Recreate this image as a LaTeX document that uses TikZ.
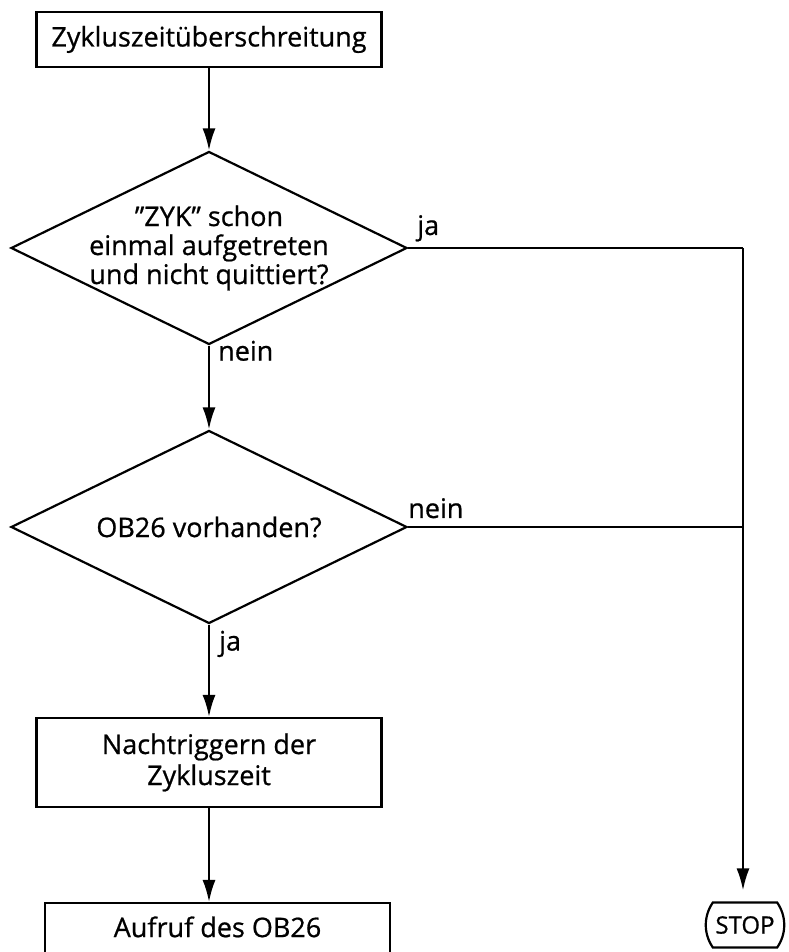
\documentclass[tikz,border=0pt]{standalone}
\usepackage{fontspec}
\setmainfont{Open Sans}[FakeBold=0.7]
\usetikzlibrary{
  arrows.meta,
  calc,
  positioning,
  shapes.geometric,
  shapes.misc
}

\tikzset{
  box/.style={draw,line width=2.2pt,minimum width=345pt,minimum height=55pt,
    inner sep=4pt,align=center},
  decision/.style={draw,diamond,line width=2.2pt,inner sep=-40pt,align=center,
    minimum width=396pt,minimum height=193pt},
  term/.style={draw,rounded rectangle,rounded rectangle arc length=70,
    line width=2.2pt,minimum width=82pt,minimum height=45pt,inner sep=2pt,
    font=\fontsize{24pt}{28pt}\selectfont},
  lab/.style={inner sep=2pt},
  flow/.style={line width=2.2pt,-{Latex[length=22pt,width=13pt]}},
  wire/.style={line width=2.2pt}
}

\begin{document}
\begin{tikzpicture}[x=1pt,y=1pt,font=\fontsize{27pt}{29pt}\selectfont]
  \path[use as bounding box] (0,0) rectangle (788,952);
  \clip (0,0) rectangle (788,952);

  % boxes and decisions
  \node[box] (start) at (209,912.5) {Zykluszeitüberschreitung};
  \node[decision] (zyk) at (209,704) {”ZYK” schon\\einmal aufgetreten\\und nicht quittiert?};
  \node[decision] (ob) at (209,425) {OB26 vorhanden?};
  \node[box,minimum height=89pt] (retrig) at (209,189.5) {Nachtriggern der\\[2pt]Zykluszeit};
  \node[box,anchor=north,text height=26pt,text depth=60pt,inner ysep=8pt] (call)
    at (217.5,50) {Aufruf des OB26};
  \node[term] (stop) at (745,27) {STOP};
  \coordinate (corner) at (743,704);

  % labels
  \node[lab,anchor=base west] (zykja) at ([xshift=7pt,yshift=13pt]zyk.east) {ja};
  \node[lab,anchor=base west] (zyknein) at ([xshift=7pt,yshift=-15pt]zyk.south) {nein};
  \node[lab,anchor=base west] (obnein) at ([xshift=-2pt,yshift=9pt]ob.east) {nein};
  \node[lab,anchor=base west] (obja) at ([xshift=8pt,yshift=-26pt]ob.south) {ja};

  % connectors
  \draw[flow] (start) -- (zyk);
  \draw[flow] (zyk) -- (ob);
  \draw[flow] (ob) -- (retrig);
  \draw[flow] (retrig) -- (retrig |- call.north);
  \draw[wire] (zyk.east) -- (corner);
  \draw[flow,shorten >=11pt] (corner) -- (corner |- stop.north);
  \draw[wire] (ob.east) -- (ob.east -| corner);
\end{tikzpicture}
\end{document}
